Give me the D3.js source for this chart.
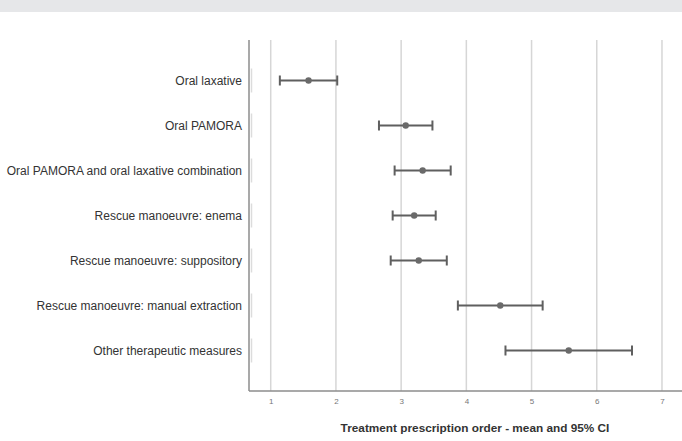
<!DOCTYPE html>
<html>
<head>
<meta charset="utf-8">
<script src="https://cdn.jsdelivr.net/npm/d3@7"></script>
<style>
  body { margin: 0; background: #fff; }
  svg { display: block; }
</style>
</head>
<body>
<svg id="chart" width="682" height="441"></svg>
<script>
// Treatments, in display order (top to bottom)
const categories = [
  "Oral laxative",
  "Oral PAMORA",
  "Oral PAMORA and oral laxative combination",
  "Rescue manoeuvre: enema",
  "Rescue manoeuvre: suppository",
  "Rescue manoeuvre: manual extraction",
  "Other therapeutic measures"
];
// Mean prescription order and 95% CI bounds
const means = [1.58, 3.07, 3.33, 3.20, 3.27, 4.52, 5.57];
const ciLow = [1.14, 2.66, 2.90, 2.87, 2.84, 3.87, 4.60];
const ciHigh = [2.02, 3.48, 3.76, 3.53, 3.70, 5.17, 6.54];
const xTicks = [1, 2, 3, 4, 5, 6, 7];
const xTitle = "Treatment prescription order - mean and 95% CI";

const svg = d3.select("#chart");
const W = 682, H = 441;
const plot = { left: 249, right: 682, top: 40, bottom: 391 };
const font = "Liberation Sans, Arial, sans-serif";

// light header band
svg.append("rect").attr("x", 0).attr("y", 0).attr("width", W).attr("height", 12)
  .attr("fill", "#e6e7e9");

const x = d3.scaleLinear().domain([0.667, 7.307]).range([plot.left, plot.right]);
const y = d3.scalePoint().domain(categories).range([plot.top, plot.bottom]).padding(0.9);

// vertical gridlines
svg.append("g").selectAll("line").data(xTicks).join("line")
  .attr("x1", d => x(d)).attr("x2", d => x(d))
  .attr("y1", plot.top).attr("y2", plot.bottom)
  .attr("stroke", "#d6d6d6").attr("stroke-width", 1.5);

// x axis
const xAxis = d3.axisBottom(x).tickValues(xTicks).tickFormat(d3.format("d"))
  .tickSize(0).tickPadding(7);
const gx = svg.append("g").attr("transform", `translate(0,${plot.bottom})`).call(xAxis);
gx.select(".domain").remove();
gx.selectAll("text").attr("fill", "#777").attr("font-size", 8).attr("font-family", font);

// axis lines
svg.append("line").attr("x1", plot.left).attr("x2", plot.right)
  .attr("y1", plot.bottom).attr("y2", plot.bottom)
  .attr("stroke", "#8c8c8c").attr("stroke-width", 1.5);
svg.append("line").attr("x1", plot.left).attr("x2", plot.left)
  .attr("y1", plot.top).attr("y2", plot.bottom)
  .attr("stroke", "#8c8c8c").attr("stroke-width", 1.5);

// y axis labels
const yAxis = d3.axisLeft(y).tickSize(0).tickPadding(7);
const gy = svg.append("g").attr("transform", `translate(${plot.left},0)`).call(yAxis);
gy.select(".domain").remove();
gy.selectAll("text").attr("fill", "#333").attr("font-size", 12).attr("font-family", font);

// faint bracket segments beside each label
svg.append("g").selectAll("line").data(categories).join("line")
  .attr("x1", plot.left + 2.5).attr("x2", plot.left + 2.5)
  .attr("y1", d => y(d) - 12).attr("y2", d => y(d) + 12)
  .attr("stroke", "#dcdcdc").attr("stroke-width", 1.5);

// error bars
const rows = categories.map((c, i) => ({ c, m: means[i], lo: ciLow[i], hi: ciHigh[i] }));
const g = svg.append("g").attr("stroke", "#5f5f5f").attr("stroke-width", 2);
g.selectAll(".bar").data(rows).join("line")
  .attr("x1", d => x(d.lo)).attr("x2", d => x(d.hi))
  .attr("y1", d => y(d.c)).attr("y2", d => y(d.c));
g.selectAll(".capL").data(rows).join("line")
  .attr("x1", d => x(d.lo)).attr("x2", d => x(d.lo))
  .attr("y1", d => y(d.c) - 5).attr("y2", d => y(d.c) + 5);
g.selectAll(".capR").data(rows).join("line")
  .attr("x1", d => x(d.hi)).attr("x2", d => x(d.hi))
  .attr("y1", d => y(d.c) - 5).attr("y2", d => y(d.c) + 5);
svg.append("g").selectAll("circle").data(rows).join("circle")
  .attr("cx", d => x(d.m)).attr("cy", d => y(d.c)).attr("r", 3.2)
  .attr("fill", "#6a6a6a");

// axis title
svg.append("text").attr("x", 475).attr("y", 432).attr("text-anchor", "middle")
  .attr("font-family", font)
  .attr("font-weight", "bold").attr("font-size", 11.8).attr("fill", "#333")
  .text(xTitle);
</script>
</body>
</html>
